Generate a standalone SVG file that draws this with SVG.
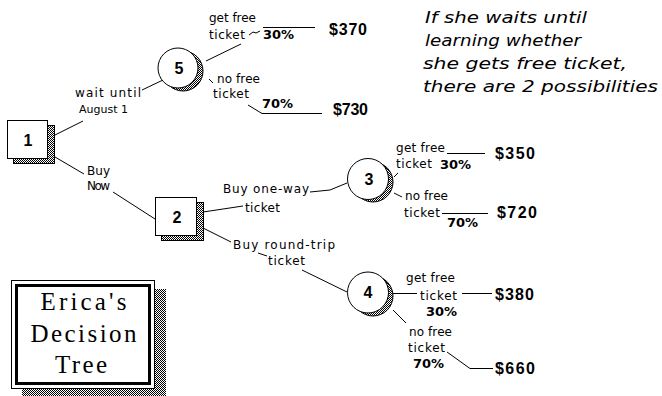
<svg xmlns="http://www.w3.org/2000/svg" width="662" height="396" viewBox="0 0 662 396">
<defs>
<pattern id="dither" width="2" height="2" patternUnits="userSpaceOnUse">
<rect width="2" height="2" fill="#fff"/>
<rect width="1" height="1" fill="#000"/>
<rect x="1" y="1" width="1" height="1" fill="#000"/>
</pattern>
</defs>
<style>
.lbl{font-family:"DejaVu Sans",sans-serif;font-size:12px;fill:#000}
.pct{font-family:"DejaVu Sans",sans-serif;font-size:13px;font-weight:bold;fill:#000}
.usd{font-family:"Liberation Sans",Arial,sans-serif;font-size:16px;font-weight:bold;fill:#000}
.num{font-family:"Liberation Sans",Arial,sans-serif;font-size:16px;font-weight:bold;fill:#000;text-anchor:middle}
.ttl{font-family:"Liberation Serif","Times New Roman",serif;font-size:25px;fill:#000;text-anchor:middle}
.note{font-family:"DejaVu Sans",sans-serif;font-size:15px;font-style:italic;fill:#000}
.shadow{fill:url(#dither);stroke:#000;stroke-width:1}
.box{fill:#fff;stroke:#000;stroke-width:1}
.conn{fill:none;stroke:#000;stroke-width:1}
</style>
<rect width="662" height="396" fill="#fff"/>

<g id="connectors" class="conn">
<path d="M55,135 L83,121"/>
<path d="M142,90 L163,80"/>
<path d="M55,157 L84,174"/>
<path d="M113,192 L155,219"/>
<path d="M206,61 L241,44"/>
<path d="M249,35 L253,32 L256,33 L260,31"/>
<path d="M263,27.5 H315"/>
<path d="M209,79 L213,83"/>
<path d="M248,105 L262,113.5 H322"/>
<path d="M203,212 L243,206"/>
<path d="M310,192 L330,190 L347,183"/>
<path d="M203,228 L231,242"/>
<path d="M258,253 L267,256"/>
<path d="M302,270 L347,292"/>
<path d="M394,177 L398,173"/>
<path d="M447,153.5 H485"/>
<path d="M394,193 L402,197"/>
<path d="M442,213.5 H488"/>
<path d="M393,293.5 H417"/>
<path d="M462,293.5 H492"/>
<path d="M393,310 L406,323"/>
<path d="M447,352 L470,368.5 H493"/>
</g>

<g id="node1">
<rect class="shadow" x="13.5" y="125.5" width="41" height="38"/>
<rect class="box" x="7.5" y="120.5" width="40" height="38"/>
<text class="num" x="28" y="146">1</text>
</g>

<g id="node2">
<rect class="shadow" x="161.5" y="202.5" width="42" height="38"/>
<rect class="box" x="155.5" y="197.5" width="41" height="38"/>
<text class="num" x="177" y="223">2</text>
</g>

<g id="node5">
<circle class="shadow" cx="183" cy="71" r="20"/>
<circle class="box" cx="178" cy="68" r="20"/>
<text class="num" x="179" y="74">5</text>
</g>

<g id="node3">
<circle class="shadow" cx="373" cy="182" r="20"/>
<circle class="box" cx="368" cy="179" r="20.5"/>
<text class="num" x="369" y="185">3</text>
</g>

<g id="node4">
<circle class="shadow" cx="373" cy="296" r="20"/>
<circle class="box" cx="368" cy="292.5" r="20.5"/>
<text class="num" x="368" y="298">4</text>
</g>

<g id="labels">
<text class="lbl" x="75" y="97" textLength="66" lengthAdjust="spacing">wait until</text>
<text class="lbl" x="79" y="113" style="font-size:11px">August 1</text>
<text class="lbl" x="87" y="175" textLength="23" lengthAdjust="spacing">Buy</text>
<text class="lbl" x="87" y="190" textLength="23" lengthAdjust="spacing">Now</text>
<text class="lbl" x="209" y="22" textLength="47" lengthAdjust="spacing">get free</text>
<text class="lbl" x="209" y="39" textLength="36" lengthAdjust="spacing">ticket</text>
<text class="lbl" x="217" y="83" textLength="43" lengthAdjust="spacing">no free</text>
<text class="lbl" x="213" y="98" textLength="36" lengthAdjust="spacing">ticket</text>
<text class="lbl" x="223" y="193" textLength="86" lengthAdjust="spacing">Buy one-way</text>
<text class="lbl" x="245" y="212" textLength="35" lengthAdjust="spacing">ticket</text>
<text class="lbl" x="233" y="249" textLength="102" lengthAdjust="spacing">Buy round-trip</text>
<text class="lbl" x="268" y="265" textLength="37" lengthAdjust="spacing">ticket</text>
<text class="lbl" x="396" y="152" textLength="49" lengthAdjust="spacing">get free</text>
<text class="lbl" x="396" y="168" textLength="36" lengthAdjust="spacing">ticket</text>
<text class="lbl" x="405" y="200" textLength="43" lengthAdjust="spacing">no free</text>
<text class="lbl" x="404" y="217" textLength="36" lengthAdjust="spacing">ticket</text>
<text class="lbl" x="406" y="282" textLength="49" lengthAdjust="spacing">get free</text>
<text class="lbl" x="420" y="300" textLength="37" lengthAdjust="spacing">ticket</text>
<text class="lbl" x="409" y="336" textLength="43" lengthAdjust="spacing">no free</text>
<text class="lbl" x="408" y="352" textLength="37" lengthAdjust="spacing">ticket</text>

<text class="pct" x="263" y="39">30%</text>
<text class="pct" x="262" y="108">70%</text>
<text class="pct" x="440" y="169">30%</text>
<text class="pct" x="447" y="227">70%</text>
<text class="pct" x="426" y="316">30%</text>
<text class="pct" x="413" y="368">70%</text>

<text class="usd" x="329" y="35" textLength="38" lengthAdjust="spacing">$370</text>
<text class="usd" x="333" y="115" textLength="35" lengthAdjust="spacing">$730</text>
<text class="usd" x="495" y="159" textLength="40" lengthAdjust="spacing">$350</text>
<text class="usd" x="497" y="218" textLength="40" lengthAdjust="spacing">$720</text>
<text class="usd" x="495" y="300" textLength="39" lengthAdjust="spacing">$380</text>
<text class="usd" x="495" y="374" textLength="40" lengthAdjust="spacing">$660</text>
</g>

<g id="note">
<text class="note" x="425" y="23" textLength="162" lengthAdjust="spacingAndGlyphs">If she waits until</text>
<text class="note" x="425" y="46" textLength="156" lengthAdjust="spacingAndGlyphs">learning whether</text>
<text class="note" x="423" y="69" textLength="204" lengthAdjust="spacingAndGlyphs">she gets free ticket,</text>
<text class="note" x="423" y="92" textLength="235" lengthAdjust="spacingAndGlyphs">there are 2 possibilities</text>
</g>

<g id="title">
<path d="M155,289 H166 V396 H22 V389 H155 Z" fill="url(#dither)"/>
<rect x="11.5" y="280.5" width="143" height="108" fill="#fff" stroke="#000" stroke-width="1"/>
<rect x="16.5" y="285.5" width="133" height="98" fill="none" stroke="#000" stroke-width="3"/>
<text class="ttl" x="83.5" y="310" textLength="86" lengthAdjust="spacing">Erica's</text>
<text class="ttl" x="83.5" y="342" textLength="106" lengthAdjust="spacing">Decision</text>
<text class="ttl" x="81" y="373" textLength="52" lengthAdjust="spacing">Tree</text>
</g>
</svg>
